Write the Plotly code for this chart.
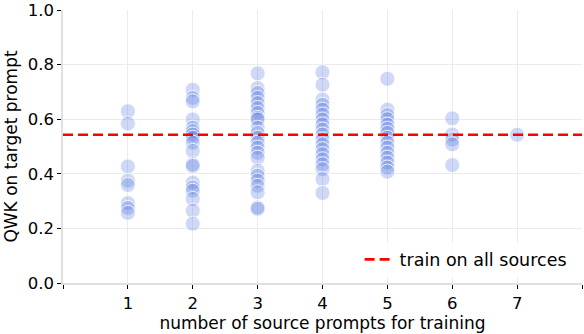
import plotly.graph_objects as go

# QWK per number of source prompts
qwk_1 = [0.629, 0.584, 0.427, 0.375, 0.359, 0.293, 0.275, 0.257]
qwk_2 = [0.708, 0.678, 0.665, 0.599, 0.569, 0.556, 0.544, 0.532, 0.514, 0.484,
         0.435, 0.429, 0.368, 0.350, 0.338, 0.308, 0.265, 0.217]
qwk_3 = [0.768, 0.714, 0.696, 0.678, 0.659, 0.641, 0.623, 0.605, 0.599, 0.569,
         0.550, 0.532, 0.514, 0.496, 0.477, 0.459, 0.411, 0.393, 0.375, 0.356,
         0.332, 0.277, 0.272]
qwk_4 = [0.772, 0.726, 0.672, 0.653, 0.635, 0.617, 0.599, 0.581, 0.562, 0.544,
         0.526, 0.508, 0.490, 0.472, 0.453, 0.435, 0.417, 0.381, 0.330]
qwk_5 = [0.748, 0.635, 0.615, 0.600, 0.580, 0.565, 0.550, 0.532, 0.514, 0.496,
         0.477, 0.459, 0.441, 0.423, 0.408]
qwk_6 = [0.603, 0.544, 0.526, 0.508, 0.432]
qwk_7 = [0.543]
all_sources = 0.543

groups = [qwk_1, qwk_2, qwk_3, qwk_4, qwk_5, qwk_6, qwk_7]
xs, ys = [], []
for n, vals in enumerate(groups, start=1):
    xs += [n] * len(vals)
    ys += vals

font = dict(family="DejaVu Sans", size=16.5, color="black")
title_font = dict(family="DejaVu Sans", size=17, color="black")
legend_font = dict(family="DejaVu Sans", size=17.5, color="black")

fig = go.Figure()
fig.add_trace(go.Scatter(x=xs, y=ys, mode="markers", showlegend=False,
                         marker=dict(size=15, color="rgba(65,105,225,0.25)",
                                     line=dict(color="rgba(255,255,255,0.8)", width=1)),
                         hoverinfo="skip"))
fig.add_trace(go.Scatter(x=[0, 8], y=[all_sources, all_sources], mode="lines",
                         name="train on all sources",
                         line=dict(color="red", width=2.6, dash="10px,5px")))

axis_style = dict(showgrid=True, gridcolor="#ebebeb", gridwidth=1,
                  showline=True, linecolor="#e0e0e0", linewidth=1.5,
                  ticks="outside", tickcolor="black", ticklen=4, tickwidth=1,
                  zeroline=False, tickfont=font, automargin=False)

fig.update_xaxes(axis_style, range=[0, 8], tickvals=list(range(9)),
                 ticktext=[""] + [str(i) for i in range(1, 8)] + [""],
                 title=dict(text="number of source prompts for training", font=title_font, standoff=4))
fig.update_yaxes(axis_style, range=[0, 1.0], tickvals=[0, 0.2, 0.4, 0.6, 0.8, 1.0],
                 tickformat=".1f",
                 title=dict(text="QWK on target prompt", font=title_font, standoff=6))

fig.update_layout(width=584, height=334, plot_bgcolor="white", paper_bgcolor="white",
                  margin=dict(l=63, r=2, t=10, b=51), font=font,
                  legend=dict(x=0.98, y=0.02, xanchor="right", yanchor="bottom",
                              bgcolor="rgba(255,255,255,0.8)", font=legend_font))

# drop the default body margin so the figure sits at the window's corner
fig.write_html("out.html", config={"displayModeBar": False},
               post_script="document.body.style.margin='0px';")
